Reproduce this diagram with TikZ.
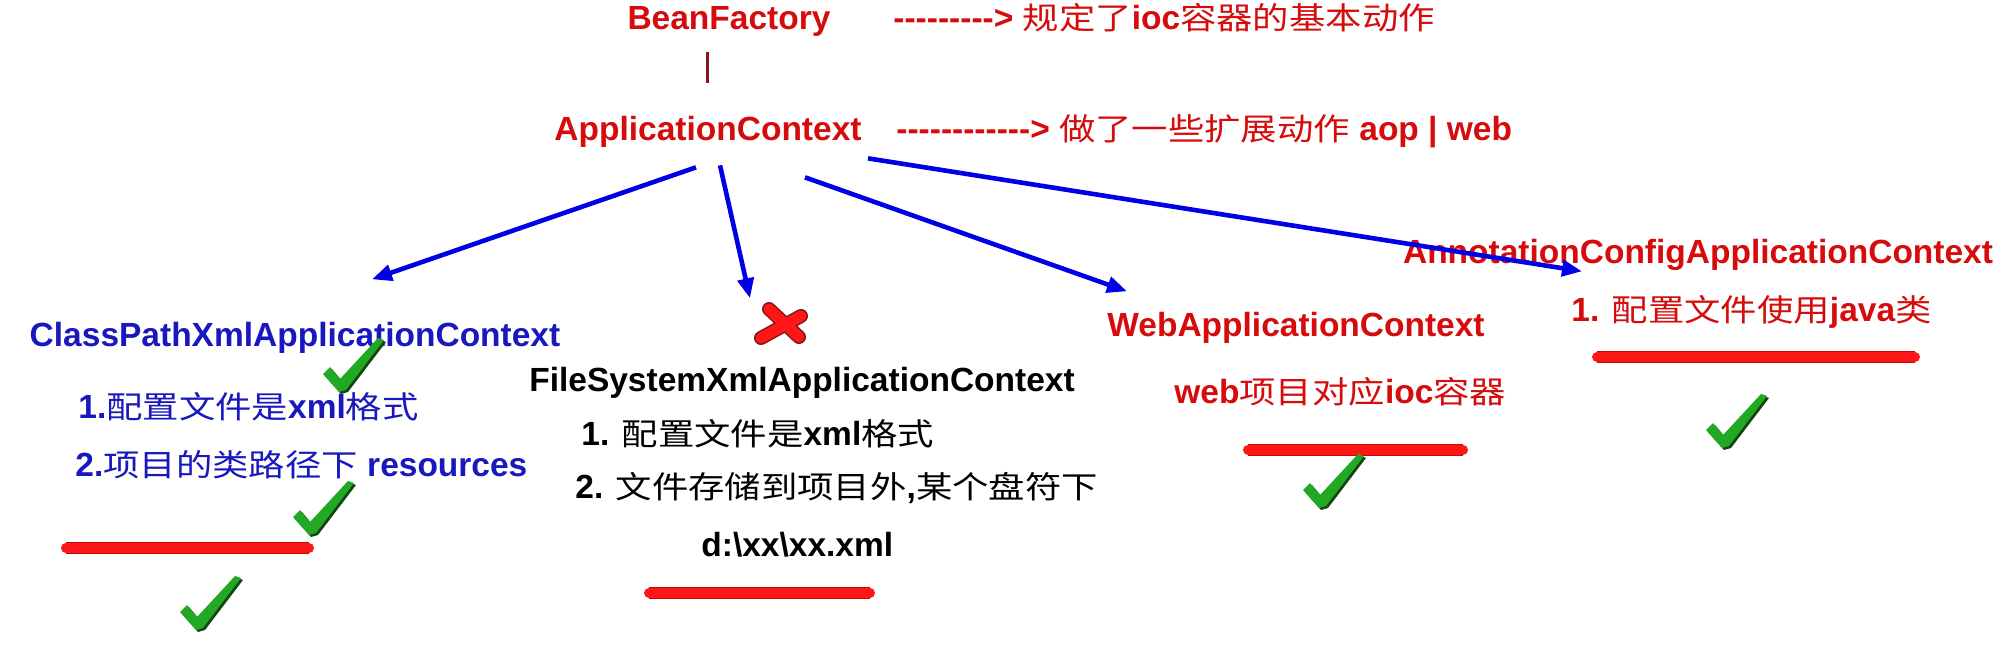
\documentclass[tikz,border=0pt]{standalone}
\usepackage{fontspec}
\setmainfont{Liberation Sans}
\newfontfamily\cjkfont[Scale=0.92,FakeStretch=1.18]{Noto Sans CJK SC}
\usetikzlibrary{calc,arrows.meta}
\definecolor{titleRed}{RGB}{214,12,12}
\definecolor{classBlue}{RGB}{24,24,190}
\definecolor{arrowBlue}{RGB}{0,0,230}
\definecolor{markRed}{RGB}{255,22,22}
\definecolor{markEdge}{RGB}{190,10,10}
\definecolor{tickGreen}{RGB}{34,168,34}
\definecolor{tickShade}{RGB}{16,70,16}
\definecolor{barRed}{RGB}{135,22,22}
\newcommand{\Han}[1]{{\cjkfont\mdseries #1}}
\newcommand{\Dashes}[1]{\foreach\ii in {1,...,#1}{-}}

\begin{document}
\begin{tikzpicture}[x=0.5pt,y=-0.5pt,
  txt/.style={inner sep=0pt,font=\bfseries\fontsize{16.75}{20}\selectfont},
  link/.style={arrowBlue,line width=2.3pt,-{Triangle[length=10pt,width=8pt]}},
  redline/.style={markRed,line width=5pt,line cap=round,preaction={draw=markEdge,line width=5.8pt}},
  okTick/.pic={
    \fill[tickShade,xshift=1pt,yshift=-1pt] (-17,-16) -- (-10,-23) -- (0,-11) -- (38,-52) -- (44,-50) -- (6,0) -- (-1,2) -- cycle;
    \fill[tickGreen] (-17,-16) -- (-10,-23) -- (0,-11) -- (38,-52) -- (44,-50) -- (6,0) -- (-1,2) -- cycle;
  }]
\fill[white] (0,0) rectangle (2002,651);
\useasboundingbox (0,0) rectangle (2002,651);

\node[txt,titleRed,anchor=base] (bf) at (729,30) {BeanFactory};
\node[txt,titleRed,anchor=base west] (bfNote) at (893,30) {\Dashes{9}> \Han{规定了}ioc\Han{容器的基本动作}};
\node[txt,titleRed,anchor=base] (app) at (708,141) {ApplicationContext};
\node[txt,titleRed,anchor=base west] (appNote) at (896,141) {\Dashes{12}> \Han{做了一些扩展动作} aop | web};
\draw[barRed,line width=1.5pt] ($(app.north)+(-1,-64)$) -- ($(app.north)+(-1,-33)$);

\node[txt,classBlue,anchor=base] (cp) at (295,347) {ClassPathXmlApplicationContext};
\node[txt,classBlue,anchor=base west] (cp1) at (78,419) {1.\Han{配置文件是}xml\Han{格式}};
\node[txt,classBlue,anchor=base west] (cp2) at (75,477) {2.\Han{项目的类路径下} resources};

\node[txt,anchor=base] (fs) at (802,392) {FileSystemXmlApplicationContext};
\node[txt,anchor=base west] (fs1) at (581,446) {1. \Han{配置文件是}xml\Han{格式}};
\node[txt,anchor=base west] (fs2) at (575,499) {2. \Han{文件存储到项目外},\Han{某个盘符下}};
\node[txt,anchor=base west] (fs3) at (701,557) {d:\textbackslash xx\textbackslash xx.xml};

\node[txt,titleRed,anchor=base] (web) at (1296,337) {WebApplicationContext};
\node[txt,titleRed,anchor=base west] (web1) at (1174,404) {web\Han{项目对应}ioc\Han{容器}};

\node[txt,titleRed,anchor=base] (ann) at (1698,264) {AnnotationConfigApplicationContext};
\node[txt,titleRed,anchor=base west] (ann1) at (1571,322) {1. \Han{配置文件使用}java\Han{类}};

\draw[link] ($(app.south)+(-12,19)$) -- ($(cp.north)+(77,-43)$);
\draw[link] ($(app.south)+(12,17)$) -- ($(fs.north)+(-52,-69)$);
\draw[link] ($(app.south)+(97,29)$) -- ($(web.north)+(-169,-21)$);
\draw[link] ($(app.south)+(160,10)$) -- ($(ann.north)+(-116,32)$);

\draw[redline] (66,548) -- (309,548);
\draw[redline] (649,593) -- (870,593);
\draw[redline] (1248,450) -- (1463,450);
\draw[redline] (1597,357) -- (1915,357);

\foreach \c/\w in {barRed/7pt,markRed/5.5pt}{
  \draw[\c,line width=\w,line cap=round] (769,309) -- (799,337);
  \draw[\c,line width=\w,line cap=round] (801,316) -- (761,338);
}

\pic at (340,390) {okTick};
\pic at (310,533) {okTick};
\pic at (197,628) {okTick};
\pic at (1320,506) {okTick};
\pic at (1723,446) {okTick};
\end{tikzpicture}
\end{document}
